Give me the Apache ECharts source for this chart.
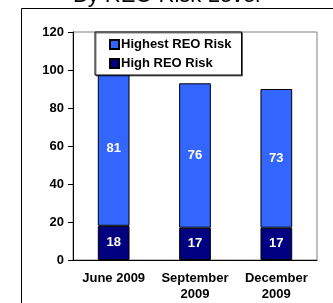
<!DOCTYPE html>
<html>
<head>
<meta charset="utf-8">
<script src="https://cdn.jsdelivr.net/npm/echarts@6/dist/echarts.min.js"></script>
<style>
  html, body { margin:0; padding:0; background:#fff; }
  #chart { width:333px; height:303px; }
</style>
</head>
<body>
<div id="chart"></div>
<script>
// data
var categories = ['June 2009', 'September\n2009', 'December\n2009'];
var highRisk = [18, 17, 17];
var highestRisk = [81, 76, 73];
var yTicks = [0, 20, 40, 60, 80, 100, 120];

var myChart = echarts.init(document.getElementById('chart'));
var font = 'Liberation Sans, Arial, sans-serif';

myChart.setOption({
  animation: false,
  textStyle: { fontFamily: font },
  graphic: [
    // outer frame, runs off the right / bottom of the crop
    { type: 'rect', shape: { x: 21.5, y: 8.5, width: 400, height: 400 },
      style: { fill: 'none', stroke: '#000', lineWidth: 1 }, z: -1 },
    { type: 'text', left: 'center', top: -15,
      style: { text: 'By REO Risk Level', font: '22px ' + font, fill: '#000' } }
  ],
  legend: {
    orient: 'vertical',
    left: 95, top: 32,
    width: 154,
    padding: [6, 10, 5, 14],
    itemGap: 6,
    itemWidth: 9, itemHeight: 9,
    icon: 'rect',
    backgroundColor: '#fff',
    borderColor: '#000', borderWidth: 1,
    shadowColor: 'rgba(0,0,0,0.5)', shadowOffsetX: 1, shadowOffsetY: 1,
    data: ['Highest REO Risk', 'High REO Risk'],
    textStyle: { fontWeight: 'bold', fontSize: 13, color: '#000', padding: [0, 0, 0, -3] },
    z: 10
  },
  grid: {
    left: 73, top: 32, width: 244, height: 228,
    show: true, borderColor: '#808080', borderWidth: 1
  },
  xAxis: {
    type: 'category',
    data: categories,
    axisLine: { lineStyle: { color: '#000' } },
    axisTick: { length: 4, lineStyle: { color: '#000' } },
    axisLabel: { fontWeight: 'bold', fontSize: 13, color: '#000', margin: 10, lineHeight: 16, interval: 0 }
  },
  yAxis: {
    type: 'value',
    min: yTicks[0], max: yTicks[yTicks.length - 1], interval: 20,
    axisLine: { show: true, lineStyle: { color: '#000' } },
    axisTick: { show: true, length: 5, lineStyle: { color: '#000' } },
    splitLine: { show: false },
    axisLabel: { fontWeight: 'bold', fontSize: 13, color: '#000', margin: 9 }
  },
  series: [
    {
      name: 'High REO Risk', type: 'bar', stack: 'r',
      data: highRisk, barWidth: '39%',
      itemStyle: { color: '#000080', borderColor: '#000', borderWidth: 1 },
      label: { show: true, position: 'inside', color: '#fff', fontWeight: 'bold', fontSize: 13 }
    },
    {
      name: 'Highest REO Risk', type: 'bar', stack: 'r',
      data: highestRisk, barWidth: '39%',
      itemStyle: { color: '#3366ff', borderColor: '#000', borderWidth: 1 },
      label: { show: true, position: 'inside', color: '#fff', fontWeight: 'bold', fontSize: 13 }
    }
  ]
});
</script>
</body>
</html>
